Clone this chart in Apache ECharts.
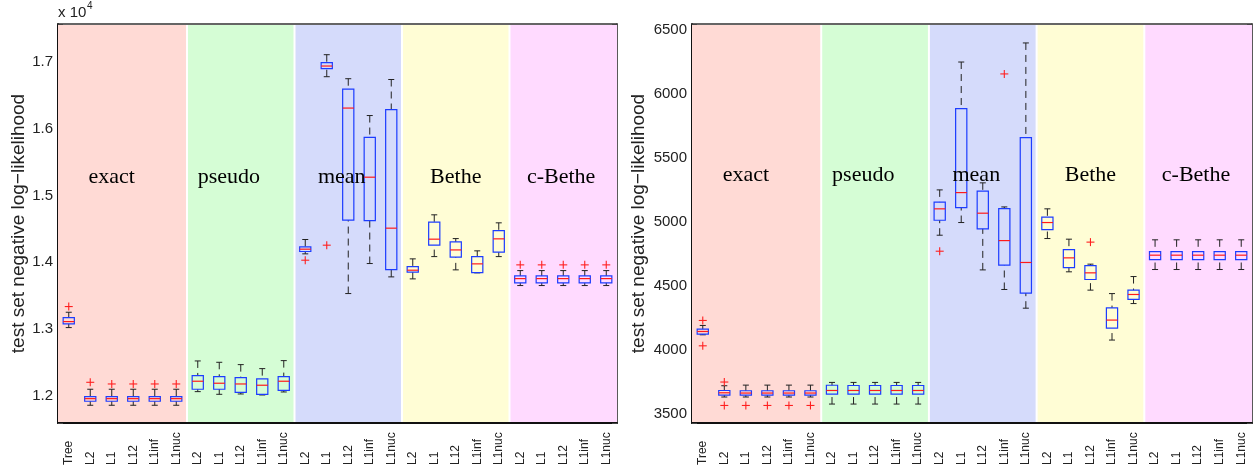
<!DOCTYPE html>
<html>
<head>
<meta charset="utf-8">
<script src="https://cdn.jsdelivr.net/npm/echarts@6/dist/echarts.min.js"></script>
<style>
  html, body { margin: 0; padding: 0; background: #fff; }
  #chart { width: 1257px; height: 469px; }
</style>
</head>
<body>
<div id="chart"></div>
<script>
// ---- data ----------------------------------------------------------------
const categories = [
  'Tree',
  'L2', 'L1', 'L12', 'L1inf', 'L1nuc',
  'L2', 'L1', 'L12', 'L1inf', 'L1nuc',
  'L2', 'L1', 'L12', 'L1inf', 'L1nuc',
  'L2', 'L1', 'L12', 'L1inf', 'L1nuc',
  'L2', 'L1', 'L12', 'L1inf', 'L1nuc'
];
const groupNames = ['exact', 'pseudo', 'mean', 'Bethe', 'c-Bethe'];
// category index range [start, end) covered by each method
const groupSpans = [[0, 6], [6, 11], [11, 16], [16, 21], [21, 26]];

// five-number summaries per category: [lower whisker, Q1, median, Q3, upper whisker]
const leftBoxes = [
  [13020, 13075, 13110, 13170, 13250],
  [11856, 11916, 11955, 11985, 12096],
  [11856, 11916, 11955, 11985, 12096],
  [11856, 11916, 11955, 11985, 12096],
  [11856, 11916, 11955, 11985, 12096],
  [11856, 11916, 11955, 11985, 12096],
  [12060, 12096, 12216, 12300, 12520],
  [12020, 12096, 12186, 12285, 12500],
  [12025, 12050, 12175, 12270, 12465],
  [12010, 12020, 12156, 12250, 12405],
  [12055, 12080, 12216, 12285, 12525],
  [14125, 14160, 14195, 14230, 14340],
  [16780, 16900, 16940, 16990, 17110],
  [13530, 14630, 16310, 16594, 16750],
  [13980, 14624, 15274, 15870, 16198],
  [13780, 13890, 14510, 16288, 16738],
  [13750, 13850, 13880, 13934, 14050],
  [14084, 14255, 14345, 14600, 14710],
  [13885, 14075, 14184, 14305, 14354],
  [13840, 13844, 13975, 14084, 14170],
  [14084, 14150, 14350, 14474, 14590],
  [13650, 13690, 13754, 13795, 13874],
  [13650, 13690, 13754, 13795, 13874],
  [13650, 13690, 13754, 13795, 13874],
  [13650, 13690, 13754, 13795, 13874],
  [13650, 13690, 13754, 13795, 13874]
];
// outliers: [category index, value]
const leftOutliers = [
  [0, 13335],
  [1, 12200], [2, 12175], [3, 12175], [4, 12175], [5, 12175],
  [11, 14030], [12, 14255],
  [21, 13960], [22, 13960], [23, 13960], [24, 13960], [25, 13960]
];

const rightBoxes = [
  [4119, 4124, 4145, 4163, 4192],
  [3633, 3648, 3666, 3684, 3721],
  [3633, 3648, 3664, 3682, 3726],
  [3633, 3648, 3664, 3682, 3726],
  [3633, 3648, 3664, 3682, 3726],
  [3633, 3648, 3664, 3682, 3726],
  [3578, 3656, 3684, 3725, 3747],
  [3578, 3656, 3684, 3723, 3747],
  [3578, 3656, 3684, 3723, 3747],
  [3578, 3656, 3684, 3723, 3747],
  [3578, 3656, 3684, 3723, 3747],
  [4897, 5014, 5103, 5155, 5251],
  [4996, 5113, 5230, 5886, 6250],
  [4626, 4947, 5069, 5241, 5306],
  [4473, 4663, 4855, 5105, 5118],
  [4327, 4445, 4684, 5659, 6399],
  [4871, 4941, 4996, 5038, 5103],
  [4611, 4644, 4720, 4785, 4866],
  [4468, 4551, 4603, 4660, 4671],
  [4078, 4171, 4234, 4330, 4441],
  [4363, 4395, 4434, 4468, 4574],
  [4629, 4707, 4741, 4769, 4861],
  [4629, 4707, 4741, 4769, 4861],
  [4629, 4707, 4741, 4769, 4861],
  [4629, 4707, 4741, 4769, 4861],
  [4629, 4707, 4741, 4769, 4861]
];
const rightOutliers = [
  [0, 4231], [0, 4033],
  [1, 3750], [1, 3567], [2, 3567], [3, 3567], [4, 3567], [5, 3567],
  [11, 4772], [14, 6157],
  [18, 4843]
];

// ---- layout & style ------------------------------------------------------
const SANS = '"Liberation Sans", Arial, Helvetica, sans-serif';
const SERIF = '"Liberation Serif", "Times New Roman", serif';
const bandColors = ['#FFDAD5', '#D5FDD5', '#D5DBFB', '#FFFDD5', '#FFDAFF'];
// horizontal centre of each method caption, in category units
const groupLabelX = [2.5, 7.95, 13.2, 18.5, 23.4];

const panels = [
  {
    grid: { left: 58, right: 640, top: 24, bottom: 46 },
    yMin: 11590, yMax: 17570, labelY: 15280, nameGap: 30,
    fmt: v => (v % 1000 === 0 ? (v / 10000).toFixed(1) : ''),
    boxes: leftBoxes, outliers: leftOutliers
  },
  {
    grid: { left: 692, right: 5, top: 24, bottom: 46 },
    yMin: 3430, yMax: 6547, labelY: 5363, nameGap: 44,
    fmt: v => (v % 500 === 0 ? String(v) : ''),
    boxes: rightBoxes, outliers: rightOutliers
  }
];

function renderBand(params, api) {
  const s = api.value(0), e = api.value(1);
  const cs = params.coordSys;
  const x0 = api.coord([s, 0])[0] + (s === 0 ? 0 : 1);
  const x1 = api.coord([e, 0])[0] - (e === categories.length ? 0 : 1);
  return {
    type: 'rect',
    shape: { x: x0, y: cs.y + 1, width: x1 - x0, height: cs.height - 2 },
    style: { fill: bandColors[params.dataIndex] }
  };
}

function renderCaption(params, api) {
  const p = api.coord([api.value(0), api.value(1)]);
  return {
    type: 'text',
    x: p[0], y: p[1],
    style: {
      text: groupNames[params.dataIndex],
      fill: '#000', font: '22px ' + SERIF,
      align: 'center', verticalAlign: 'middle'
    }
  };
}

function renderBox(params, api) {
  const i = api.value(0);
  const bw = api.size([1, 0])[0];
  const half = bw * 0.26;
  const cap = bw * 0.14;
  const pLow = api.coord([i, api.value(1)]);
  const cx = pLow[0];
  const yLow = pLow[1];
  const yQ1 = api.coord([i, api.value(2)])[1];
  const yMed = api.coord([i, api.value(3)])[1];
  const yQ3 = api.coord([i, api.value(4)])[1];
  const yHigh = api.coord([i, api.value(5)])[1];
  const dash = { stroke: '#222', lineWidth: 1, lineDash: [7, 5] };
  const solid = { stroke: '#222', lineWidth: 1 };
  return {
    type: 'group',
    children: [
      { type: 'line', shape: { x1: cx, y1: yHigh, x2: cx, y2: yQ3 }, style: dash },
      { type: 'line', shape: { x1: cx, y1: yLow, x2: cx, y2: yQ1 }, style: dash },
      { type: 'line', shape: { x1: cx - cap, y1: yHigh, x2: cx + cap, y2: yHigh }, style: solid },
      { type: 'line', shape: { x1: cx - cap, y1: yLow, x2: cx + cap, y2: yLow }, style: solid },
      { type: 'rect', shape: { x: cx - half, y: yQ3, width: 2 * half, height: yQ1 - yQ3 },
        style: { fill: 'none', stroke: '#1c3cff', lineWidth: 1.2 } },
      { type: 'line', shape: { x1: cx - half, y1: yMed, x2: cx + half, y2: yMed },
        style: { stroke: '#ff1a1a', lineWidth: 1.2 } }
    ]
  };
}

function renderPlus(params, api) {
  const p = api.coord([api.value(0), api.value(1)]);
  const r = 4;
  const st = { stroke: '#ff2020', lineWidth: 1.1 };
  return {
    type: 'group',
    children: [
      { type: 'line', shape: { x1: p[0] - r, y1: p[1], x2: p[0] + r, y2: p[1] }, style: st },
      { type: 'line', shape: { x1: p[0], y1: p[1] - r, x2: p[0], y2: p[1] + r }, style: st }
    ]
  };
}

const grid = [], xAxis = [], yAxis = [], series = [];
panels.forEach((pn, k) => {
  grid.push(pn.grid);
  // category axis along the bottom
  xAxis.push({
    type: 'category', gridIndex: k, data: categories, position: 'bottom',
    axisLine: { lineStyle: { color: '#111', width: 2 } },
    axisTick: { show: false },
    axisLabel: {
      interval: 0, rotate: 90, align: 'left', verticalAlign: 'middle', margin: 42,
      fontSize: 12, fontFamily: SANS, color: '#222'
    }
  });
  // continuous axis in category units, drawn as the top frame
  xAxis.push({
    type: 'value', gridIndex: k, min: 0, max: categories.length, position: 'top',
    axisLine: { show: true, onZero: false, lineStyle: { color: '#333', width: 1.5 } },
    axisTick: { show: false }, axisLabel: { show: false }, splitLine: { show: false }
  });
  yAxis.push({
    type: 'value', gridIndex: k, min: pn.yMin, max: pn.yMax, position: 'left',
    name: 'test set negative log\u2212likelihood', nameLocation: 'middle', nameGap: pn.nameGap,
    nameTextStyle: { fontSize: 19, fontFamily: SANS, color: '#222' },
    axisLine: { show: true, lineStyle: { color: '#111', width: 2 } },
    axisTick: { show: true, inside: true, length: 5, lineStyle: { color: '#444' } },
    axisLabel: { formatter: pn.fmt, fontSize: 15, fontFamily: SANS, color: '#222', margin: 5 },
    splitLine: { show: false }
  });
  yAxis.push({
    type: 'value', gridIndex: k, min: pn.yMin, max: pn.yMax, position: 'right',
    axisLine: { show: true, lineStyle: { color: '#222', width: 1.5 } },
    axisTick: { show: true, inside: true, length: 5, lineStyle: { color: '#444' } },
    axisLabel: { show: false }, splitLine: { show: false }
  });
  const xc = 2 * k, xv = 2 * k + 1, y = 2 * k;
  series.push({
    type: 'custom', xAxisIndex: xv, yAxisIndex: y, z: 1, silent: true,
    renderItem: renderBand, data: groupSpans, clip: false
  });
  series.push({
    type: 'custom', xAxisIndex: xc, yAxisIndex: y, z: 3, silent: true,
    renderItem: renderBox, encode: { x: 0, y: [1, 2, 3, 4, 5] },
    data: pn.boxes.map((b, i) => [i].concat(b))
  });
  series.push({
    type: 'custom', xAxisIndex: xc, yAxisIndex: y, z: 4, silent: true,
    renderItem: renderPlus, encode: { x: 0, y: 1 }, data: pn.outliers
  });
  series.push({
    type: 'custom', xAxisIndex: xv, yAxisIndex: y, z: 5, silent: true,
    renderItem: renderCaption, data: groupLabelX.map(x => [x, pn.labelY])
  });
});

const chart = echarts.init(document.getElementById('chart'), null, { renderer: 'canvas' });
chart.setOption({
  backgroundColor: '#fff',
  animation: false,
  grid, xAxis, yAxis, series,
  graphic: [
    { type: 'text', left: 58, top: 5, style: { text: 'x 10', font: '15px ' + SANS, fill: '#222' } },
    { type: 'text', left: 87, top: 1, style: { text: '4', font: '10px ' + SANS, fill: '#222' } }
  ]
});
</script>
</body>
</html>
